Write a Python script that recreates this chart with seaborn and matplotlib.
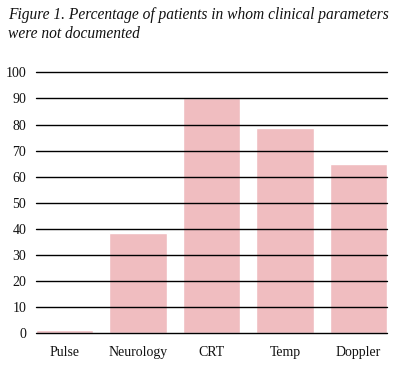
import matplotlib
matplotlib.use("Agg")
import matplotlib.pyplot as plt
import seaborn as sns
import pandas as pd

categories = ["Pulse", "Neurology", "CRT", "Temp", "Doppler"]
values = [1.2, 38.6, 90.0, 78.7, 65.0]
yticks = [0, 10, 20, 30, 40, 50, 60, 70, 80, 90, 100]
title = "Figure 1. Percentage of patients in whom clinical parameters\nwere not documented"

sns.set_theme(style="white")
plt.rcParams['font.family'] = ['Liberation Serif', 'DejaVu Serif']

df = pd.DataFrame({"cat": categories, "val": values})

fig = plt.figure(figsize=(3.93, 3.68), dpi=100)
ax = fig.add_axes([36/393, 1 - 333.3/368, (387-36)/393, (333.3-72.3)/368])
w = 0.776
sns.barplot(data=df, x="cat", y="val", color="#F0BDC0", saturation=1, width=w, ax=ax, zorder=1)
ax.set_xlim(-w/2, len(categories) - 1 + w/2)
ax.set_ylim(0, 100)
ax.set_yticks(yticks)
ax.set_yticklabels([str(t) for t in yticks])
for t in yticks:
    ax.axhline(t, color="black", lw=1.0, zorder=3, clip_on=False)
ax.set_xlabel("")
ax.set_ylabel("")
ax.tick_params(axis="both", length=0, labelsize=10, colors="#111111")
ax.tick_params(axis="y", pad=7)
ax.tick_params(axis="x", pad=9)
for s in ax.spines.values():
    s.set_visible(False)
fig.text(8/393, 1 - 7/368, title, ha="left", va="top", fontsize=11.2, style="italic", color="#111111", linespacing=1.22)
fig.savefig("out.png", dpi=100)
